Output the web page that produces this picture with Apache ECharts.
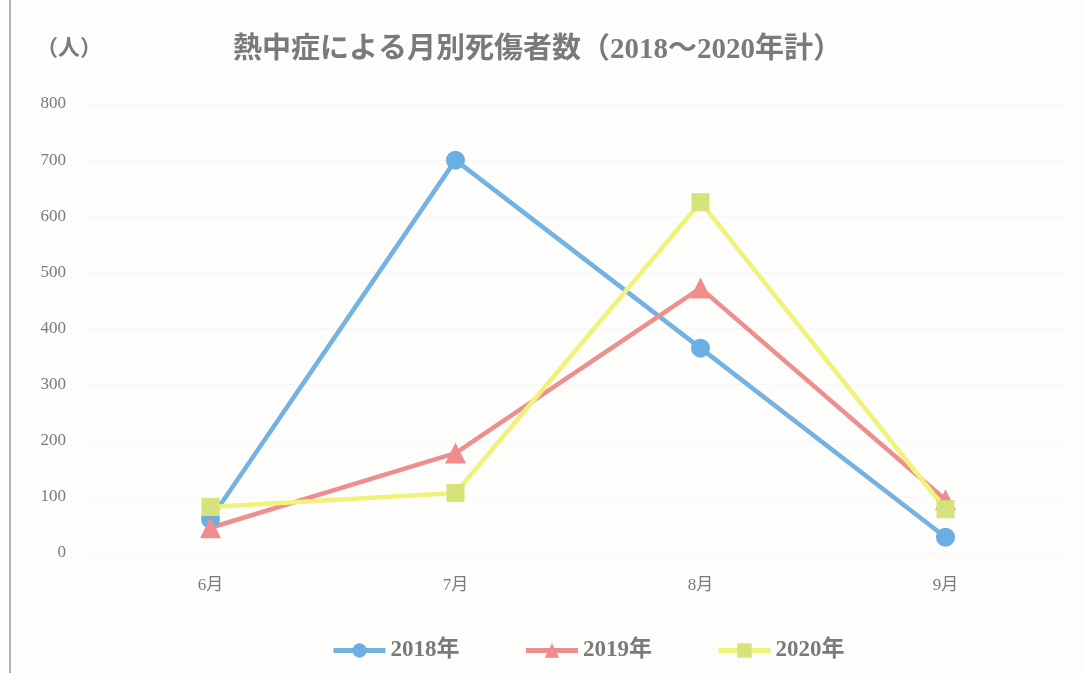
<!DOCTYPE html>
<html>
<head>
<meta charset="utf-8">
<script src="https://cdn.jsdelivr.net/npm/echarts@6/dist/echarts.min.js"></script>
<style>
  html, body { margin: 0; padding: 0; background: #fdfdfb; }
  #main { width: 1085px; height: 673px; }
</style>
</head>
<body>
<div id="main"></div>
<script>
const months = ['6月', '7月', '8月', '9月'];
const y2018 = [60, 700, 365, 28];
const y2019 = [45, 178, 472, 95];
const y2020 = [82, 107, 625, 78];

const font = '"Liberation Serif", "Noto Sans CJK JP", serif';
const textGray = '#7a7a7a';

const chart = echarts.init(document.getElementById('main'));

function lineSeries(name, data, lineColor, markColor, symbol, size) {
  return {
    name: name,
    type: 'line',
    data: data,
    symbol: symbol,
    symbolSize: size,
    lineStyle: { color: lineColor, width: 4.5 },
    itemStyle: { color: markColor },
    emphasis: { disabled: true }
  }
}

chart.setOption({
  backgroundColor: '#fdfdfb',
  animation: false,
  title: {
    text: '熱中症による月別死傷者数（2018～2020年計）',
    left: 228,
    top: 31,
    textStyle: { color: textGray, fontSize: 29, fontWeight: 'bold', fontFamily: font }
  },
  graphic: [{
    type: 'text',
    left: 36,
    top: 38,
    style: { text: '（人）', fill: textGray, font: 'bold 22px ' + font }
  }, {
    type: 'line',
    shape: { x1: 10, y1: 0, x2: 10, y2: 673 },
    style: { stroke: '#999', lineWidth: 1.5 }
  }],
  legend: {
    bottom: 6,
    left: 326,
    itemGap: 64,
    itemWidth: 52,
    itemHeight: 18,
    lineStyle: { width: 5 },
    textStyle: { color: textGray, fontSize: 23, fontWeight: 'bold', fontFamily: font },
    data: ['2018年', '2019年', '2020年']
  },
  grid: { left: 88, right: 17, top: 104, bottom: 120 },
  xAxis: {
    type: 'category',
    data: months,
    axisLine: { show: false },
    axisTick: { show: false },
    axisLabel: { color: textGray, fontSize: 17, fontFamily: font, margin: 24 }
  },
  yAxis: {
    type: 'value',
    min: 0,
    max: 800,
    interval: 100,
    axisLine: { show: false },
    axisTick: { show: false },
    axisLabel: { color: textGray, fontSize: 17, fontFamily: font, margin: 22 },
    splitLine: { lineStyle: { color: '#f1f1ef', type: 'dotted' } }
  },
  series: [
    lineSeries('2018年', y2018, '#74b2e2', '#6aaee3', 'circle', 19),
    lineSeries('2019年', y2019, '#ee8f8f', '#ef8d8d', 'triangle', 21),
    lineSeries('2020年', y2020, '#f0f27a', '#d6e27a', 'rect', 18)
  ]
});
</script>
</body>
</html>
